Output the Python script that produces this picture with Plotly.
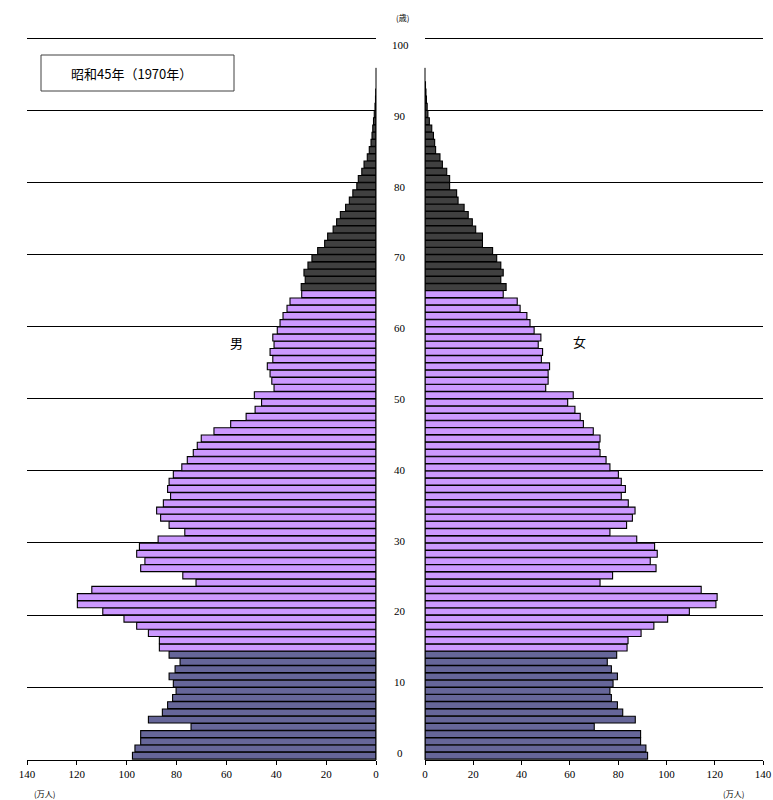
import plotly.graph_objects as go

# ---------------- data (万人) ----------------
male = [97.7, 96.7, 94.4, 94.4, 74.2, 91.3, 85.7, 83.6, 81.6, 80.2,
        81.3, 83.0, 80.6, 78.6, 83.0, 86.9, 86.9, 91.3, 96.0, 101.1,
        109.6, 119.8, 119.8, 114.0, 72.2, 77.5, 94.4, 92.7, 96.0, 94.9,
        87.4, 76.7, 83.0, 86.4, 88.0, 85.3, 82.4, 83.6, 83.0, 81.3,
        77.9, 75.7, 73.3, 71.7, 70.1, 65.0, 58.3, 52.1, 48.5, 45.9,
        48.8, 40.9, 41.8, 42.5, 43.6, 41.4, 42.5, 40.9, 41.4, 39.6,
        38.5, 37.3, 35.7, 34.5, 29.8, 30.0, 28.4, 28.9, 27.3, 25.7,
        23.4, 20.6, 19.4, 17.2, 15.8, 14.3, 12.2, 10.7, 9.3, 7.7,
        7.1, 5.7, 4.8, 3.5, 2.7, 2.0, 1.6, 1.3, 1.0, 0.7,
        0.4, 0.2, 0.1]
female = [92.2, 91.5, 89.3, 89.3, 70.1, 87.1, 81.9, 79.7, 77.2, 76.6,
          77.9, 79.7, 77.2, 75.5, 79.4, 83.7, 84.1, 89.5, 94.8, 100.5,
          109.5, 120.5, 121.0, 114.4, 72.5, 77.7, 95.7, 93.3, 96.2, 95.1,
          87.7, 76.6, 83.5, 85.9, 87.0, 84.2, 81.3, 83.0, 81.3, 80.1,
          76.6, 75.0, 72.5, 72.1, 72.5, 69.7, 65.6, 64.3, 62.1, 59.1,
          61.4, 50.0, 51.0, 51.0, 51.6, 48.2, 48.7, 46.9, 48.0, 45.2,
          43.5, 42.2, 39.4, 38.2, 32.4, 33.6, 31.4, 32.4, 31.4, 29.7,
          28.0, 23.8, 23.8, 21.0, 19.6, 17.9, 16.2, 13.7, 13.1, 10.2,
          10.2, 9.0, 7.2, 6.2, 4.4, 4.0, 3.5, 2.8, 1.8, 1.2,
          0.9, 0.6, 0.4, 0.2]
ages_m = list(range(len(male)))
ages_f = list(range(len(female)))

x_ticks = [0, 20, 40, 60, 80, 100, 120, 140]
age_labels = [0, 10, 20, 30, 40, 50, 60, 70, 80, 90, 100]
grid_ages = [9.5, 19.5, 29.5, 39.5, 49.5, 59.5, 69.5, 79.5, 89.5, 99.5]

title_text = "昭和45年（1970年）"
male_label = "男"
female_label = "女"
age_unit = "(歳)"
pop_unit = "(万人)"

# ---------------- styles ----------------
C_YOUNG = "#666699"
C_WORK = "#CC99FF"
C_OLD = "#404040"


def color_for(age):
    if age < 15:
        return C_YOUNG
    if age < 65:
        return C_WORK
    return C_OLD


W, H = 773, 800
M_TOP = 30
M_BOT = H - 760
PLOT_H = H - M_TOP - M_BOT


def px(pix):
    return pix / W


def py(pix):
    return (H - M_BOT - pix) / PLOT_H


L_DOM = [px(27), px(376)]
R_DOM = [px(425), px(763)]
Y_RANGE = [-0.6, 100.65]
AXIS_TOP = 95.4

num_font = dict(family="Liberation Serif", size=11, color="black")
jp_font = dict(family="Noto Sans CJK JP, sans-serif", size=13, color="black")
small_jp = dict(family="Noto Sans CJK JP, sans-serif", size=8, color="black")

fig = go.Figure()
fig.add_trace(go.Bar(
    y=ages_m, x=male, orientation="h", xaxis="x", yaxis="y",
    marker=dict(color=[color_for(a) for a in ages_m], line=dict(color="black", width=1.1)),
    name=male_label, showlegend=False, hoverinfo="x+y",
))
fig.add_trace(go.Bar(
    y=ages_f, x=female, orientation="h", xaxis="x2", yaxis="y",
    marker=dict(color=[color_for(a) for a in ages_f], line=dict(color="black", width=1.1)),
    name=female_label, showlegend=False, hoverinfo="x+y",
))

xcommon = dict(
    tickvals=x_ticks, ticktext=[str(v) for v in x_ticks],
    ticks="outside", ticklen=4, tickcolor="black", tickwidth=1,
    showline=True, linecolor="black", linewidth=1,
    showgrid=False, zeroline=False, tickfont=num_font, anchor="y",
    fixedrange=True, automargin=False,
)
fig.update_layout(
    width=W, height=H,
    margin=dict(l=0, r=0, t=M_TOP, b=M_BOT, pad=0),
    paper_bgcolor="white", plot_bgcolor="white",
    barmode="overlay", bargap=0.05,
    xaxis=dict(domain=L_DOM, range=[140, 0], **xcommon),
    xaxis2=dict(domain=R_DOM, range=[0, 140], **xcommon),
    yaxis=dict(
        range=Y_RANGE, tickvals=grid_ages, showticklabels=False,
        showgrid=True, gridcolor="black", gridwidth=1,
        zeroline=False, showline=False, ticks="", fixedrange=True,
        automargin=False,
    ),
)

# vertical zero-axis lines of both panels
shapes = []
for xp in (L_DOM[1], R_DOM[0]):
    shapes.append(dict(type="line", xref="paper", yref="y",
                       x0=xp, x1=xp, y0=Y_RANGE[0], y1=AXIS_TOP,
                       line=dict(color="black", width=1)))
# title box
shapes.append(dict(type="rect", xref="paper", yref="paper",
                   x0=px(41), x1=px(234), y0=py(91), y1=py(55),
                   line=dict(color="#404040", width=1), fillcolor="white"))
fig.update_layout(shapes=shapes)

ann = []
for v in age_labels:
    ann.append(dict(text=str(v), xref="paper", yref="y", x=px(400),
                    y=0.375 + 0.982 * v, showarrow=False, font=num_font,
                    xanchor="center", yanchor="middle"))
ann.append(dict(text=title_text, xref="paper", yref="paper", x=px(131), y=py(73),
                showarrow=False, font=jp_font, xanchor="center", yanchor="middle"))
ann.append(dict(text=male_label, xref="paper", yref="paper", x=px(237), y=py(342),
                showarrow=False, font=jp_font, xanchor="center", yanchor="middle"))
ann.append(dict(text=female_label, xref="paper", yref="paper", x=px(579), y=py(341),
                showarrow=False, font=jp_font, xanchor="center", yanchor="middle"))
ann.append(dict(text=age_unit, xref="paper", yref="paper", x=px(403), y=py(17),
                showarrow=False, font=small_jp, xanchor="center", yanchor="middle"))
ann.append(dict(text=pop_unit, xref="paper", yref="paper", x=px(44), y=py(794),
                showarrow=False, font=small_jp, xanchor="center", yanchor="middle"))
ann.append(dict(text=pop_unit, xref="paper", yref="paper", x=px(733), y=py(794),
                showarrow=False, font=small_jp, xanchor="center", yanchor="middle"))
fig.update_layout(annotations=ann)

# the page is exactly the figure: no default body margin, no scrollbars
page_js = "document.body.style.margin='0';document.body.style.overflow='hidden';"
fig.write_html("out.html", post_script=page_js, config={"displayModeBar": False})
